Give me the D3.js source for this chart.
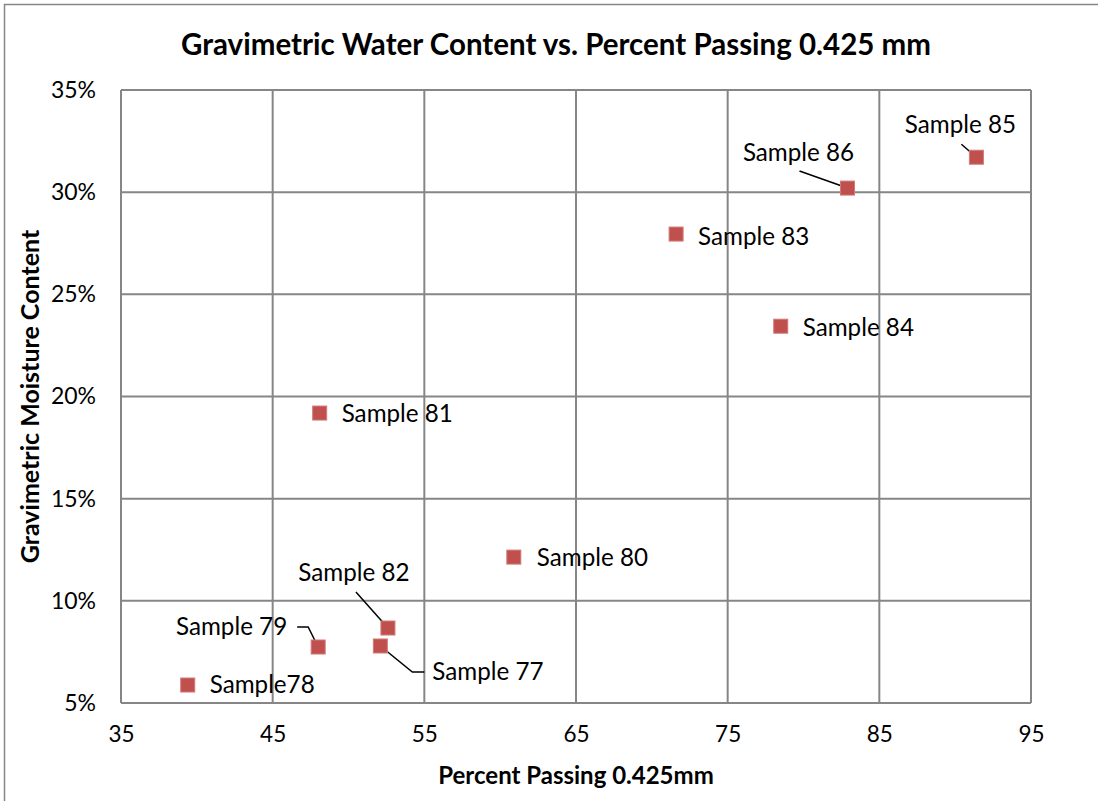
<!DOCTYPE html>
<html>
    <head>
        <meta charset="UTF-8">
        <title>water content</title>
        <style type="text/css">
            body {
                margin: 0;
                background: #ffffff;
                font-family: "Lato", "Open Sans", sans-serif;
            }
            #chart text {
                fill: #000000;
            }
        </style>
        <script src="https://d3js.org/d3.v7.min.js"></script>
    </head>
    <body>
        <div id="chart"></div>
        <script>
            // values
            const samples = ["Sample 77", "Sample78", "Sample 79", "Sample 80", "Sample 81",
                             "Sample 82", "Sample 83", "Sample 84", "Sample 85", "Sample 86"];
            const passing = [52.1, 39.4, 48.0, 60.9, 48.1, 52.6, 71.6, 78.5, 91.4, 82.9];
            const moisture = [0.0779, 0.0588, 0.0774, 0.1214, 0.1919, 0.0867, 0.2795, 0.2344, 0.3171, 0.3020];
            const x_ticks = [35, 45, 55, 65, 75, 85, 95];
            const y_ticks = [0.05, 0.10, 0.15, 0.20, 0.25, 0.30, 0.35];

            // label placement relative to each marker: [dx, dy, anchor, leader points]
            const label_pos = {
                "Sample 77": [52, 26, "start", [[0, 0], [32, 26], [44, 26]]],
                "Sample78": [22, 0, "start", null],
                "Sample 79": [-31, -20, "end", [[0, 0], [-10, -20], [-21, -20]]],
                "Sample 80": [23, 0, "start", null],
                "Sample 81": [22, 0, "start", null],
                "Sample 82": [-34, -55, "middle", [[0, 0], [-32, -36]]],
                "Sample 83": [22, 2, "start", null],
                "Sample 84": [22, 1, "start", null],
                "Sample 85": [-16, -33, "middle", [[0, 0], [-15, -13]]],
                "Sample 86": [-49, -36, "middle", [[0, 0], [-48, -17]]]
            };

            function Chart () {
                this.width = 1098;
                this.height = 801;
                this.left = 121;
                this.right = 1031;
                this.top = 90;
                this.bottom = 703;

                this.init = function () {
                    this.svg = d3.select("#chart")
                        .append("svg")
                        .attr("width", this.width)
                        .attr("height", this.height);

                    // outer frame
                    this.svg.append("rect")
                        .attr("x", 4.5).attr("y", 4.5)
                        .attr("width", this.width + 10).attr("height", this.height + 10)
                        .attr("fill", "none")
                        .attr("stroke", "#868686")
                        .attr("stroke-width", 1.5);

                    this.x = d3.scaleLinear().domain([35, 95]).range([this.left, this.right]);
                    this.y = d3.scaleLinear().domain([0.05, 0.35]).range([this.bottom, this.top]);

                    this.draw_grid();
                    this.draw_axes();
                    this.draw_points();
                    this.draw_titles();
                }

                this.draw_grid = function () {
                    const g = this.svg.append("g");
                    g.selectAll("line.vx").data(x_ticks).join("line")
                        .attr("x1", d => this.x(d)).attr("x2", d => this.x(d))
                        .attr("y1", this.top).attr("y2", this.bottom)
                        .attr("stroke", "#868686").attr("stroke-width", 2);
                    g.selectAll("line.hy").data(y_ticks).join("line")
                        .attr("y1", d => this.y(d)).attr("y2", d => this.y(d))
                        .attr("x1", this.left).attr("x2", this.right)
                        .attr("stroke", "#868686").attr("stroke-width", 2);
                }

                this.draw_axes = function () {
                    const xa = this.svg.append("g")
                        .attr("transform", `translate(0, ${this.bottom})`)
                        .call(d3.axisBottom(this.x).tickValues(x_ticks).tickSize(0).tickPadding(23));
                    xa.select(".domain").remove();
                    xa.selectAll("text")
                        .attr("font-size", 22.5)
                        .attr("font-family", "Lato");

                    const ya = this.svg.append("g")
                        .attr("transform", `translate(${this.left}, 0)`)
                        .call(d3.axisLeft(this.y).tickValues(y_ticks).tickSize(0).tickPadding(25)
                            .tickFormat(d3.format(".0%")));
                    ya.select(".domain").remove();
                    ya.selectAll("text")
                        .attr("font-size", 23)
                        .attr("font-family", "Lato");
                }

                this.draw_points = function () {
                    const pts = samples.map((s, i) => ({ name: s, px: this.x(passing[i]), py: this.y(moisture[i]) }));

                    const lines = this.svg.append("g");
                    pts.forEach(p => {
                        const lp = label_pos[p.name];
                        if (lp[3]) {
                            lines.append("path")
                                .attr("d", d3.line()(lp[3].map(q => [p.px + q[0], p.py + q[1]])))
                                .attr("fill", "none")
                                .attr("stroke", "#000")
                                .attr("stroke-width", 1.5);
                        }
                    });

                    this.svg.append("g").selectAll("rect").data(pts).join("rect")
                        .attr("x", d => d.px - 7).attr("y", d => d.py - 7)
                        .attr("width", 14).attr("height", 14)
                        .attr("fill", "#c0504d")
                        .attr("stroke", "#d07a77")
                        .attr("stroke-width", 1);

                    this.svg.append("g").selectAll("text").data(pts).join("text")
                        .attr("x", d => d.px + label_pos[d.name][0])
                        .attr("y", d => d.py + label_pos[d.name][1])
                        .attr("dy", "0.35em")
                        .attr("text-anchor", d => label_pos[d.name][2])
                        .attr("font-size", 24.2)
                        .text(d => d.name);
                }

                this.draw_titles = function () {
                    this.svg.append("text")
                        .attr("x", 556).attr("y", 45)
                        .attr("dy", "0.35em")
                        .attr("text-anchor", "middle")
                        .attr("font-size", 29.5)
                        .attr("font-weight", "bold")
                        .text("Gravimetric Water Content vs. Percent Passing 0.425 mm");

                    this.svg.append("text")
                        .attr("x", (this.left + this.right) / 2).attr("y", 776)
                        .attr("dy", "0.35em")
                        .attr("text-anchor", "middle")
                        .attr("font-size", 24)
                        .attr("font-weight", "bold")
                        .text("Percent Passing 0.425mm");

                    this.svg.append("text")
                        .attr("transform", `translate(30, ${(this.top + this.bottom) / 2}) rotate(-90)`)
                        .attr("dy", "0.35em")
                        .attr("text-anchor", "middle")
                        .attr("font-size", 25)
                        .attr("font-weight", "bold")
                        .text("Gravimetric Moisture Content");
                }
            }

            window.onload = function () {
                const chart = new Chart();
                chart.init();
            }
        </script>
    </body>
</html>
